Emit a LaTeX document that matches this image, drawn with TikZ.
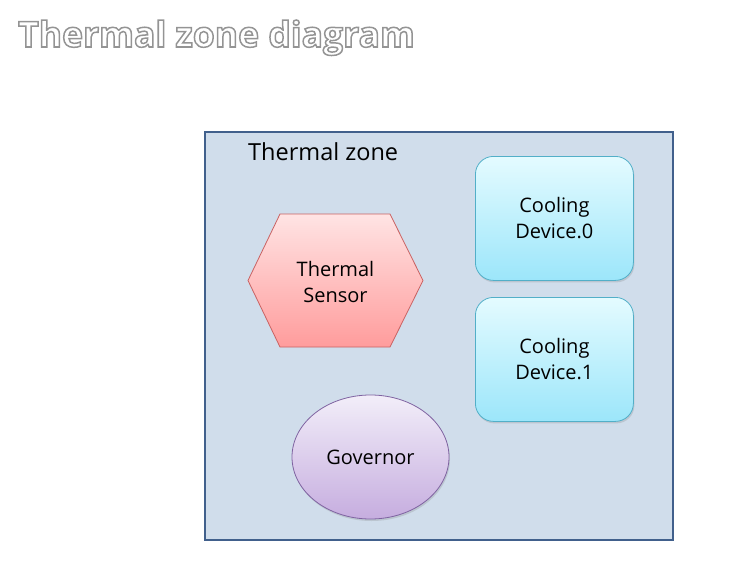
\documentclass[tikz,border=0pt]{standalone}
\usepackage{fontspec}
\setmainfont{Open Sans}
\usetikzlibrary{shadows,shapes.geometric}
\definecolor{zonefill}{HTML}{D0DDEB}
\definecolor{zonedraw}{HTML}{41608C}
\definecolor{sensTop}{HTML}{FFE4E4}
\definecolor{sensBot}{HTML}{FF9C9C}
\definecolor{sensDraw}{HTML}{C96262}
\definecolor{coolTop}{HTML}{E4FBFF}
\definecolor{coolBot}{HTML}{9CE6FA}
\definecolor{coolDraw}{HTML}{52AFC8}
\definecolor{govTop}{HTML}{F2EEF9}
\definecolor{govBot}{HTML}{C6ADDF}
\definecolor{govDraw}{HTML}{7F63A1}
\newcommand{\outlinetext}[1]{{\color{white}\special{pdf:literal direct 2 Tr 1.5 w 0.58 G}#1\special{pdf:literal direct 0 Tr}}}
\tikzset{
  titlefont/.style={font=\fontsize{35.5}{40}\selectfont\bfseries, anchor=base west, inner sep=0},
  bodyfont/.style={font=\fontsize{20}{26}\selectfont, align=center},
  softshadow/.style={drop shadow={opacity=0.25, shadow xshift=1pt, shadow yshift=-2pt}},
  coolbox/.style={bodyfont, rounded corners=18pt, draw=coolDraw, line width=0.8pt,
    top color=coolTop, bottom color=coolBot, minimum width=158, minimum height=124,
    anchor=north west, softshadow},
}
\begin{document}
\begin{tikzpicture}[x=1pt,y=-1pt]
\useasboundingbox (0,0) rectangle (744,586);
% title with outline
\node[titlefont] (title) at (18,47) {\outlinetext{Thermal zone diagram}};
% zone
\node[draw=zonedraw, line width=2.2pt, fill=zonefill, minimum width=468, minimum height=408,
  anchor=north west, inner sep=0] (zone) at (204,131) {};
\node[font=\fontsize{23.5}{28}\selectfont, anchor=base west, inner sep=0] (zlabel) at (248,160) {Thermal zone};
% sensor hexagon
\path[draw=sensDraw, line width=0.8pt, top color=sensTop, bottom color=sensBot]
  (248,280.5) -- (280,214) -- (390,214) -- (423,280.5) -- (390,347) -- (280,347) -- cycle;
\node[bodyfont] (sensor) at (335.5,282) {Thermal\\Sensor};
% cooling devices
\node[coolbox] (cd0) at (475,156) {Cooling\\Device.0};
\node[coolbox] (cd1) at (475,297) {Cooling\\Device.1};
% governor
\node[bodyfont, ellipse, minimum width=157, minimum height=124, draw=govDraw, line width=0.8pt,
  top color=govTop, bottom color=govBot, softshadow] (gov) at (370.5,457) {Governor};
\end{tikzpicture}
\end{document}
